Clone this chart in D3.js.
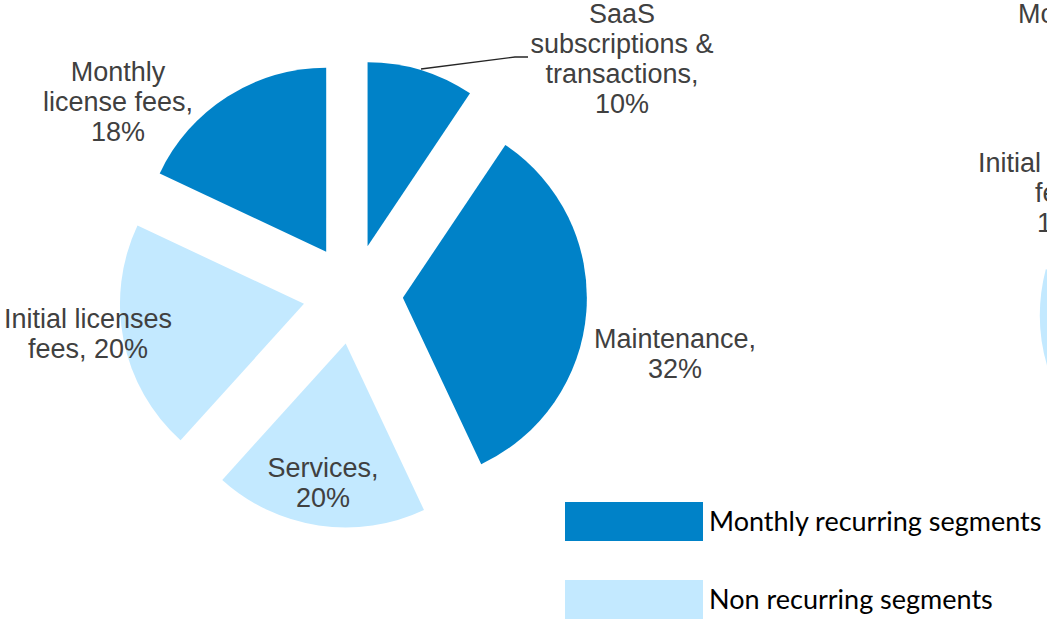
<!DOCTYPE html>
<html>
    <head>
        <script src="https://d3js.org/d3.v7.min.js"></script>
        <style>
            body { margin: 0; background: #fff; }
        </style>
    </head>
    <body>
        <svg height="620" width="1047" id="chart"></svg>
        <script>
            // revenue split, clockwise from 12 o'clock (slice sizes as drawn)
            const segments = ["SaaS subscriptions & transactions", "Maintenance", "Services", "Initial licenses fees", "Monthly license fees"];
            const shares = [9.4, 33.6, 18.7, 20.3, 18.0];
            const recurring = [true, true, false, false, true];
            const labelLines = [
                ["SaaS", "subscriptions &", "transactions,", "10%"],
                ["Maintenance,", "32%"],
                ["Services,", "20%"],
                ["Initial licenses", "fees, 20%"],
                ["Monthly", "license fees,", "18%"]
            ];
            const legendLabels = ["Monthly recurring segments", "Non recurring segments"];

            // second (cut off) chart on the right edge
            const rightLabels = [["Monthly"], ["Initial licenses", "fees,", "15%"]];

            let svg = d3.select("#chart");
            const dark = "#0082c8", light = "#c3e9ff";

            const cx = 353, cy = 294, radius = 184, explode = 50;

            let pie = d3.pie().sort(null).value(d => d)(shares);
            let arc = d3.arc().innerRadius(0).outerRadius(radius);

            let pieG = svg.append("g").attr("transform", `translate(${cx},${cy})`);
            pieG.selectAll("path")
                .data(pie)
                .join("path")
                .attr("d", arc)
                .attr("fill", (d, i) => recurring[i] ? dark : light)
                .attr("transform", d => {
                    let a = (d.startAngle + d.endAngle) / 2;
                    return `translate(${explode * Math.sin(a)},${-explode * Math.cos(a)})`;
                });

            // data labels
            const labelPos = [[622, 23], [675, 348], [323, 477], [88, 328], [118, 81]];
            labelLines.forEach((lines, i) => {
                let t = svg.append("text")
                    .attr("text-anchor", "middle")
                    .attr("font-family", "Liberation Sans, Arial, sans-serif")
                    .attr("font-size", 27)
                    .attr("fill", "#404040");
                lines.forEach((l, j) => {
                    t.append("tspan")
                        .attr("x", labelPos[i][0])
                        .attr("y", labelPos[i][1] + j * 30)
                        .text(l);
                });
            });

            // leader line for the SaaS label
            svg.append("polyline")
                .attr("points", "421,69 515,57 528,57")
                .attr("fill", "none")
                .attr("stroke", "#262626")
                .attr("stroke-width", 1.3);

            // legend
            legendLabels.forEach((l, i) => {
                svg.append("rect")
                    .attr("x", 565).attr("y", 502 + i * 78)
                    .attr("width", 138).attr("height", 39)
                    .attr("fill", i == 0 ? dark : light);
                svg.append("text")
                    .attr("x", 709).attr("y", 531 + i * 78)
                    .attr("font-family", "Lato, sans-serif")
                    .attr("font-size", 27)
                    .attr("fill", "#000")
                    .text(l);
            });

            // partial second pie at the right edge
            let arc2 = d3.arc().innerRadius(0).outerRadius(radius)
                .startAngle(-Math.PI * 0.62).endAngle(-Math.PI * 0.42);
            svg.append("path")
                .attr("d", arc2())
                .attr("transform", "translate(1224,315)")
                .attr("fill", light);

            const rightPos = [[1018, 23], [978, 172]];
            const rightOffsets = [[0], [0, 57, 59]];
            rightLabels.forEach((lines, i) => {
                let t = svg.append("text")
                    .attr("font-family", "Liberation Sans, Arial, sans-serif")
                    .attr("font-size", 27)
                    .attr("fill", "#404040");
                lines.forEach((l, j) => {
                    t.append("tspan")
                        .attr("x", rightPos[i][0] + rightOffsets[i][j])
                        .attr("y", rightPos[i][1] + j * 30)
                        .text(l);
                });
            });
        </script>
    </body>
</html>
